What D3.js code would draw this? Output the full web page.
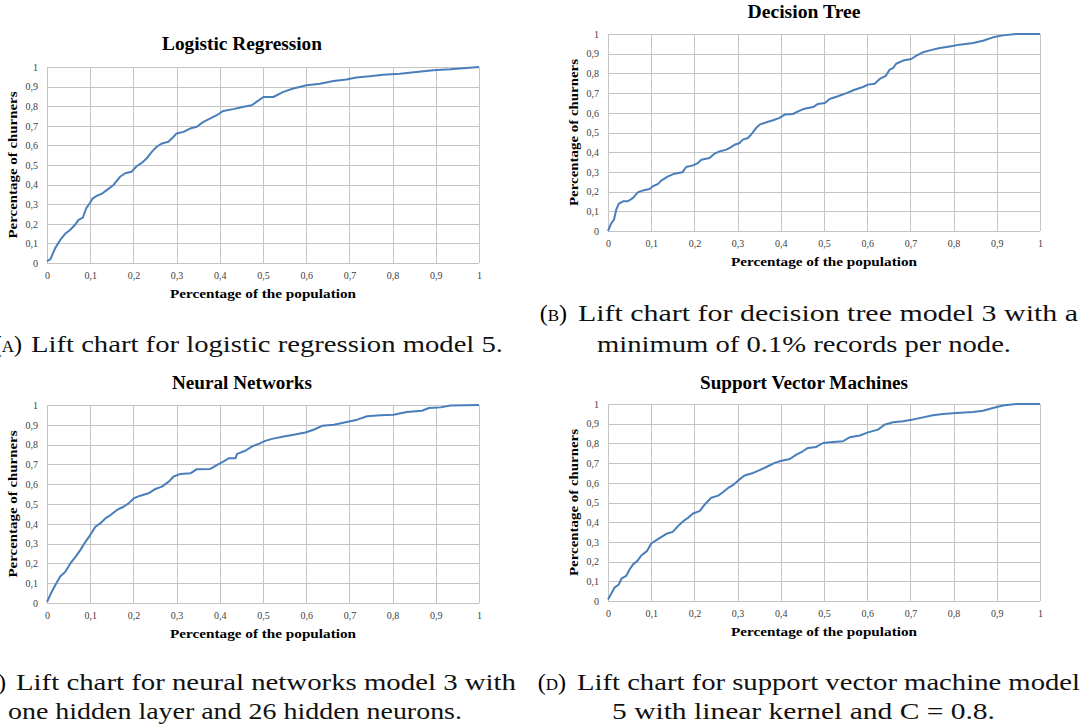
<!DOCTYPE html>
<html>
<head>
<meta charset="utf-8">
<script src="https://cdn.jsdelivr.net/npm/d3@7"></script>
<style>
  html, body { margin: 0; padding: 0; background: #ffffff; }
  svg { display: block; }
</style>
</head>
<body>
<svg id="chart" width="1080" height="728"></svg>
<script>
// ---------------- DATA ----------------
const tickValues = [0, 0.1, 0.2, 0.3, 0.4, 0.5, 0.6, 0.7, 0.8, 0.9, 1];
const tickLabels = ["0", "0,1", "0,2", "0,3", "0,4", "0,5", "0,6", "0,7", "0,8", "0,9", "1"];

const chartTitles = ["Logistic Regression", "Decision Tree", "Neural Networks", "Support Vector Machines"];
const xAxisTitle = "Percentage of the population";
const yAxisTitle = "Percentage of churners";

// Logistic regression (population fraction, churner fraction)
const lrX = [0, 0.008, 0.019, 0.031, 0.042, 0.054, 0.065, 0.073, 0.083, 0.091, 0.099, 0.106, 0.116, 0.127, 0.139, 0.154, 0.169, 0.181, 0.196, 0.208, 0.22, 0.231, 0.243, 0.254, 0.266, 0.281, 0.293, 0.3, 0.316, 0.331, 0.347, 0.362, 0.377, 0.393, 0.408, 0.431, 0.455, 0.474, 0.485, 0.501, 0.524, 0.547, 0.57, 0.601, 0.632, 0.663, 0.693, 0.716, 0.747, 0.778, 0.817, 0.855, 0.894, 0.933, 0.971, 1];
const lrY = [0.01, 0.02, 0.076, 0.119, 0.149, 0.17, 0.195, 0.22, 0.232, 0.28, 0.305, 0.33, 0.344, 0.353, 0.373, 0.398, 0.44, 0.458, 0.466, 0.495, 0.512, 0.534, 0.568, 0.593, 0.61, 0.619, 0.644, 0.661, 0.669, 0.686, 0.695, 0.72, 0.737, 0.754, 0.776, 0.785, 0.797, 0.805, 0.822, 0.847, 0.847, 0.873, 0.89, 0.907, 0.915, 0.929, 0.936, 0.946, 0.953, 0.961, 0.966, 0.975, 0.983, 0.988, 0.995, 1];

// Decision tree
const dtX = [0, 0.008, 0.014, 0.019, 0.025, 0.035, 0.046, 0.058, 0.069, 0.081, 0.096, 0.104, 0.116, 0.123, 0.139, 0.154, 0.172, 0.181, 0.197, 0.208, 0.216, 0.235, 0.247, 0.258, 0.274, 0.285, 0.293, 0.305, 0.312, 0.324, 0.334, 0.343, 0.351, 0.367, 0.382, 0.397, 0.409, 0.428, 0.44, 0.455, 0.475, 0.486, 0.502, 0.513, 0.532, 0.552, 0.571, 0.59, 0.602, 0.617, 0.629, 0.643, 0.652, 0.66, 0.667, 0.683, 0.702, 0.714, 0.729, 0.745, 0.768, 0.791, 0.814, 0.845, 0.868, 0.891, 0.914, 0.945, 1];
const dtY = [0, 0.041, 0.058, 0.108, 0.139, 0.151, 0.151, 0.168, 0.196, 0.206, 0.213, 0.227, 0.239, 0.256, 0.277, 0.291, 0.298, 0.325, 0.333, 0.345, 0.362, 0.371, 0.393, 0.404, 0.413, 0.426, 0.438, 0.447, 0.464, 0.472, 0.497, 0.523, 0.54, 0.552, 0.562, 0.574, 0.591, 0.594, 0.607, 0.621, 0.629, 0.645, 0.65, 0.67, 0.684, 0.7, 0.717, 0.731, 0.743, 0.748, 0.772, 0.788, 0.819, 0.827, 0.849, 0.865, 0.873, 0.89, 0.907, 0.917, 0.929, 0.937, 0.946, 0.954, 0.966, 0.983, 0.993, 1, 1];

// Neural networks
const nnX = [0, 0.008, 0.019, 0.031, 0.042, 0.054, 0.066, 0.077, 0.089, 0.1, 0.112, 0.123, 0.135, 0.147, 0.162, 0.177, 0.189, 0.201, 0.216, 0.235, 0.251, 0.266, 0.282, 0.293, 0.309, 0.332, 0.347, 0.378, 0.394, 0.409, 0.421, 0.436, 0.44, 0.459, 0.475, 0.49, 0.505, 0.521, 0.548, 0.571, 0.598, 0.617, 0.637, 0.664, 0.694, 0.718, 0.741, 0.772, 0.802, 0.833, 0.868, 0.884, 0.911, 0.934, 1];
const nnY = [0.005, 0.044, 0.09, 0.135, 0.157, 0.2, 0.233, 0.267, 0.309, 0.343, 0.385, 0.402, 0.427, 0.444, 0.47, 0.486, 0.503, 0.529, 0.542, 0.554, 0.576, 0.588, 0.613, 0.639, 0.652, 0.655, 0.676, 0.677, 0.698, 0.715, 0.731, 0.731, 0.753, 0.769, 0.791, 0.804, 0.819, 0.829, 0.841, 0.85, 0.861, 0.875, 0.895, 0.9, 0.914, 0.926, 0.943, 0.948, 0.951, 0.965, 0.971, 0.985, 0.988, 0.998, 1];

// Support vector machines
const svmX = [0, 0.008, 0.015, 0.025, 0.031, 0.042, 0.05, 0.058, 0.069, 0.077, 0.09, 0.1, 0.112, 0.123, 0.135, 0.15, 0.162, 0.174, 0.185, 0.197, 0.212, 0.224, 0.239, 0.255, 0.266, 0.278, 0.289, 0.301, 0.316, 0.336, 0.351, 0.37, 0.386, 0.397, 0.421, 0.436, 0.451, 0.463, 0.482, 0.498, 0.521, 0.544, 0.559, 0.583, 0.602, 0.625, 0.64, 0.66, 0.683, 0.706, 0.729, 0.752, 0.775, 0.806, 0.845, 0.868, 0.891, 0.914, 0.945, 1];
const svmY = [0.008, 0.039, 0.068, 0.084, 0.113, 0.127, 0.16, 0.186, 0.206, 0.231, 0.253, 0.292, 0.309, 0.324, 0.341, 0.351, 0.38, 0.405, 0.422, 0.444, 0.456, 0.49, 0.524, 0.535, 0.552, 0.574, 0.588, 0.611, 0.637, 0.65, 0.664, 0.684, 0.701, 0.709, 0.721, 0.743, 0.76, 0.777, 0.782, 0.802, 0.807, 0.811, 0.831, 0.84, 0.856, 0.87, 0.895, 0.907, 0.912, 0.921, 0.932, 0.943, 0.949, 0.954, 0.959, 0.966, 0.98, 0.992, 1, 1];

const seriesX = [lrX, dtX, nnX, svmX];
const seriesY = [lrY, dtY, nnY, svmY];

// ---------------- LAYOUT ----------------
const panels = [
  { left: 47,  top: 67,  width: 432, height: 196, titleX: 242, titleY: 50,  titleW: 160 },
  { left: 608, top: 34,  width: 432, height: 197, titleX: 804, titleY: 18,  titleW: 113 },
  { left: 47,  top: 405, width: 432, height: 198, titleX: 242, titleY: 389, titleW: 140 },
  { left: 608, top: 404, width: 432, height: 197, titleX: 804, titleY: 389, titleW: 208 }
];

const svg = d3.select("#chart");
const titleFont = "'Liberation Serif', 'DejaVu Serif', serif";
const lineColor = "#4a7ebb";
const gridColor = "#c4c4c4";

panels.forEach((p, i) => {
  const x = d3.scaleLinear().domain([0, 1]).range([p.left, p.left + p.width]);
  const y = d3.scaleLinear().domain([0, 1]).range([p.top + p.height, p.top]);
  const g = svg.append("g");

  // grid
  g.append("g").selectAll("line.v").data(tickValues).join("line")
    .attr("x1", d => Math.round(x(d)) + 0.5).attr("x2", d => Math.round(x(d)) + 0.5)
    .attr("y1", y(0)).attr("y2", y(1))
    .attr("stroke", gridColor).attr("stroke-width", 1);
  g.append("g").selectAll("line.h").data(tickValues).join("line")
    .attr("y1", d => Math.round(y(d)) + 0.5).attr("y2", d => Math.round(y(d)) + 0.5)
    .attr("x1", x(0)).attr("x2", x(1))
    .attr("stroke", gridColor).attr("stroke-width", 1);

  // axes (labels only, Excel-style)
  const xAxis = d3.axisBottom(x).tickValues(tickValues)
    .tickFormat((d, k) => tickLabels[k]).tickSize(0).tickPadding(9);
  const yAxis = d3.axisLeft(y).tickValues(tickValues)
    .tickFormat((d, k) => tickLabels[k]).tickSize(0).tickPadding(9);

  const gx = g.append("g").attr("transform", `translate(0,${p.top + p.height})`).call(xAxis);
  const gy = g.append("g").attr("transform", `translate(${p.left},0)`).call(yAxis);
  [gx, gy].forEach(a => {
    a.select(".domain").remove();
    a.selectAll("text").attr("font-family", titleFont).attr("font-size", 10).attr("fill", "#404040");
  });

  // series line
  const pts = seriesX[i].map((v, k) => [v, seriesY[i][k]]);
  g.append("path").datum(pts)
    .attr("fill", "none").attr("stroke", lineColor).attr("stroke-width", 2)
    .attr("stroke-linejoin", "round")
    .attr("d", d3.line().x(d => x(d[0])).y(d => y(d[1])));

  // chart title
  g.append("text").attr("x", p.titleX).attr("y", p.titleY)
    .attr("text-anchor", "middle").attr("font-family", titleFont)
    .attr("font-weight", "bold").attr("font-size", 18)
    .attr("textLength", p.titleW).attr("lengthAdjust", "spacingAndGlyphs")
    .text(chartTitles[i]);

  // x axis title
  g.append("text").attr("x", p.left + p.width / 2).attr("y", p.top + p.height + 35)
    .attr("text-anchor", "middle").attr("font-family", titleFont)
    .attr("font-weight", "bold").attr("font-size", 12.5)
    .attr("textLength", 186).attr("lengthAdjust", "spacingAndGlyphs")
    .text(xAxisTitle);

  // y axis title
  g.append("text")
    .attr("transform", `translate(${p.left - 30},${p.top + p.height / 2}) rotate(-90)`)
    .attr("text-anchor", "middle").attr("font-family", titleFont)
    .attr("font-weight", "bold").attr("font-size", 12.5)
    .attr("textLength", 147).attr("lengthAdjust", "spacingAndGlyphs")
    .text(yAxisTitle);
});

// ---------------- CAPTIONS ----------------
const capFont = "'Liberation Serif', 'DejaVu Serif', serif";
const captions = [
  { tag: "(A)", tagEnd: 22, x: 31,  y: 352, w: 472, text: "Lift chart for logistic regression model 5." },
  { tag: "(B)", tagEnd: 567, x: 578, y: 321, w: 500, text: "Lift chart for decision tree model 3 with a" },
  { tag: null,  x: 597, y: 352, w: 414, text: "minimum of 0.1% records per node." },
  { tag: "(C)", tagEnd: 6, x: 16,  y: 690, w: 500, text: "Lift chart for neural networks model 3 with" },
  { tag: null,  x: 8,   y: 719, w: 454, text: "one hidden layer and 26 hidden neurons." },
  { tag: "(D)", tagEnd: 566, x: 577, y: 690, w: 503, text: "Lift chart for support vector machine model" },
  { tag: null,  x: 612, y: 719, w: 383, text: "5 with linear kernel and C = 0.8." }
];

captions.forEach(c => {
  if (c.tag) {
    svg.append("text").attr("x", c.tagEnd).attr("y", c.y)
      .attr("text-anchor", "end").attr("font-family", capFont)
      .attr("font-size", 24).attr("font-variant", "small-caps")
      .text(c.tag.toLowerCase().replace("(", "(").replace(")", ")"))
      .each(function () {
        // render letter as small caps: parentheses normal, letter small-cap
      });
  }
  svg.append("text").attr("x", c.x).attr("y", c.y)
    .attr("font-family", capFont).attr("font-size", 24)
    .attr("textLength", c.w).attr("lengthAdjust", "spacingAndGlyphs")
    .attr("fill", "#111")
    .text(c.text);
});
</script>
</body>
</html>
